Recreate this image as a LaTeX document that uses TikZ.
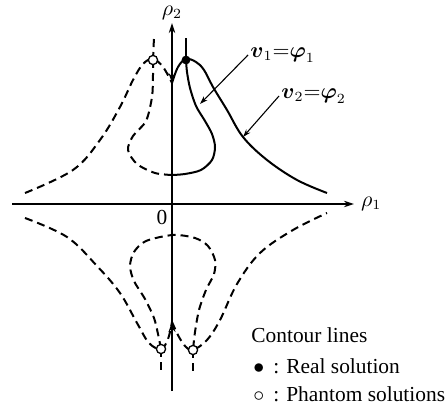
\documentclass[tikz,border=0pt]{standalone}
\usepackage{amsmath,amssymb}
\usepackage{fontspec}
\setmainfont{Liberation Serif}
\usepackage{tikz}
\usetikzlibrary{arrows.meta,positioning}

\begin{document}
\begin{tikzpicture}[
    x=0.5pt, y=-0.5pt,
    every node/.style={font=\fontsize{10.7}{13}\selectfont},
    contour/.style={line width=1pt},
    phantom/.style={contour, dash pattern=on 4pt off 2.5pt},
    axisline/.style={line width=0.75pt, -{Stealth[length=5pt,width=3.2pt]}},
    leader/.style={line width=0.55pt, -{Stealth[length=4pt,width=2.6pt]}},
    cuspmark/.style={line width=0.75pt, -{Stealth[length=5pt,width=3.5pt]}},
    realpt/.style={circle, fill=black, inner sep=0pt, minimum size=4.4pt},
    ghostpt/.style={circle, draw, fill=white, line width=0.65pt, inner sep=0pt, minimum size=4.6pt},
    legend/.style={anchor=west, inner sep=1pt}
]
\useasboundingbox (0,0) rectangle (448,410);

% Key points
\coordinate (o) at (172,204);
\coordinate (xl) at (12,204);
\coordinate (xr) at (354,204);
\coordinate (yb) at (172,391);
\coordinate (yt) at (172,23);
\coordinate (cusp) at (172,83);
\coordinate (cup) at (172,322);
\coordinate (pa) at (153,60);
\coordinate (pb) at (186,60);
\coordinate (pc) at (161,349);
\coordinate (pd) at (193,350);

% Axes
\draw[axisline] (xl) -- (xr);
\draw[axisline] (yb) -- (yt);
\node[right=0pt of xr] (r1) {$\rho_1$};
\node[above=-2pt of yt] (r2) {$\rho_2$};
\node (zero) at (162,217) {0};

% Upper contours
\draw[phantom] plot[smooth, tension=0.6] coordinates {(25,193) (73,170) (100,140) (120,107) (133,80) (143,64) (153,59) (163,67) (172,83)};
\draw[contour] plot[smooth, tension=0.6] coordinates {(172,83) (178,67) (186,59) (196,62) (204,70) (213,87) (227,110) (243,137) (267,160) (297,180) (327,193)};
\draw[phantom] plot[smooth] coordinates {(153,60) (153,75) (152,97) (146,121) (133,136) (128,150) (137,164) (155,173) (172,175)};
\draw[contour] plot[smooth] coordinates {(172,175) (185,174) (201,170) (212,160) (215,147) (212,134) (205,121) (196,106) (190,88) (187,72) (186,60)};
\draw[phantom] (pa) -- (154,37);
\draw[contour] (pb) -- (186,38);

% Lower contours
\draw[phantom] plot[smooth, tension=0.6] coordinates {(25,218) (67,237) (97,266) (120,293) (137,323) (149,343) (161,349) (168,339) (172,322)};
\draw[phantom] plot[smooth, tension=0.6] coordinates {(172,322) (179,337) (186,347) (193,350) (207,340) (220,320) (237,284) (260,253) (293,230) (327,213)};
\draw[phantom] plot[smooth] coordinates {(161,349) (158,334) (154,318) (145,299) (134,281) (130,266) (134,252) (146,241) (173,235) (195,238) (208,246) (215,260) (214,274) (206,290) (199,310) (195,332) (193,350)};
\draw[phantom] (pc) -- (161,373);
\draw[phantom] (pd) -- (193,373);

% Arrowheads on the axis
\draw[cuspmark] (172,70) -- (cusp);
\draw[cuspmark] (172,336) -- (cup);

% Solutions
\node[realpt] (sreal) at (pb) {};
\node[ghostpt] (sa) at (pa) {};
\node[ghostpt] (sc) at (pc) {};
\node[ghostpt] (sd) at (pd) {};

% Curve labels
\coordinate (m1) at (200,104);
\coordinate (m2) at (243,137);
\node[legend] (nu1) at (248,55) {$\boldsymbol{v}_1{=}\boldsymbol{\varphi}_1$};
\node[legend] (nu2) at (279,96) {$\boldsymbol{v}_2{=}\boldsymbol{\varphi}_2$};
\draw[leader] (nu1.west) -- (m1);
\draw[leader] (nu2.west) -- (m2);

% Legend
\node[legend] (title) at (249,335) {Contour lines};
\node[legend] (keyreal) at (251,366) {$\bullet$ \,: Real solution};
\node[legend] (keyghost) at (251,394) {$\circ$ \,: Phantom solutions};

\end{tikzpicture}
\end{document}
